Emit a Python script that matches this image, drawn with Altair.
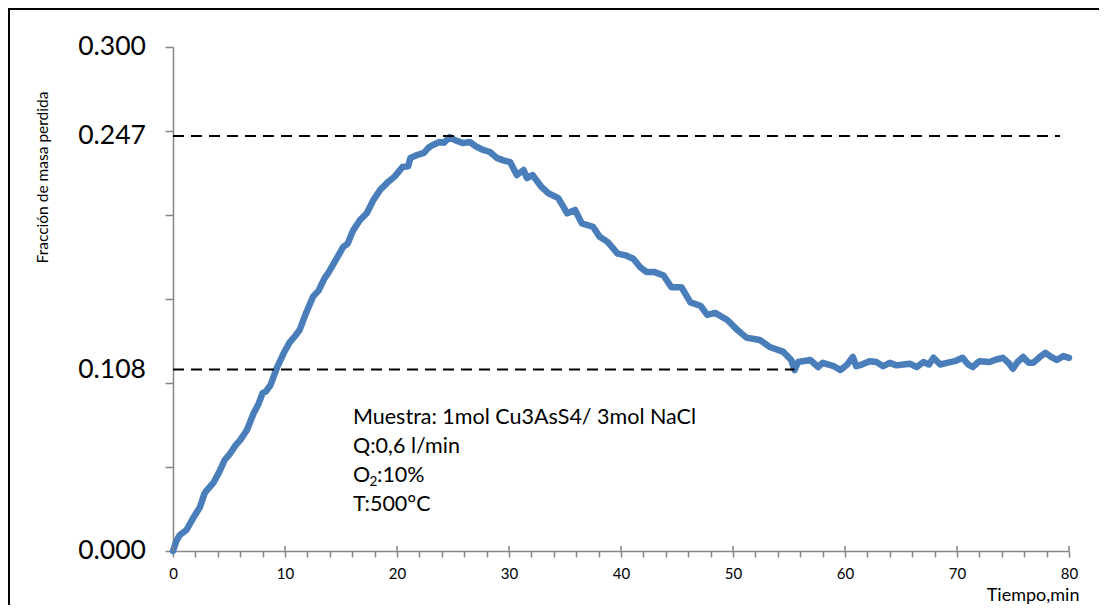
import altair as alt
import pandas as pd

# ---- data ----
tiempo = [0.0, 0.3, 0.6, 1.2, 1.8, 2.4, 2.8, 3.0, 3.6, 4.2, 4.6, 5.1, 5.6, 6.0, 6.6, 7.2, 7.6, 8.0, 8.3, 8.7,
          9.3, 9.9, 10.4, 10.9, 11.3, 11.9, 12.5, 13.0, 13.5, 14.0, 14.6, 15.2, 15.6, 16.1, 16.7, 17.3, 17.9,
          18.5, 19.1, 19.8, 20.5, 21.0, 21.2, 21.8, 22.4, 22.8, 23.2, 23.8, 24.2, 24.7, 25.2, 25.9, 26.5,
          27.0, 27.7, 28.3, 28.9, 29.5, 30.1, 30.7, 31.3, 31.6, 32.1, 32.9, 33.5, 34.4, 35.2, 35.9, 36.5,
          37.5, 38.1, 38.8, 39.7, 40.4, 41.1, 41.7, 42.3, 43.0, 43.8, 44.5, 45.4, 46.2, 47.1, 47.7, 48.4,
          49.5, 50.4, 51.2, 52.4, 53.3, 54.5, 55.2, 55.5, 55.8, 56.9, 57.6, 58.0, 59.0, 59.6, 60.2, 60.7,
          61.0, 61.5, 62.2, 62.8, 63.4, 64.0, 64.6, 65.2, 65.8, 66.4, 67.0, 67.5, 67.9, 68.5, 69.1, 69.8,
          70.5, 71.0, 71.4, 72.0, 72.9, 73.5, 74.1, 74.6, 75.0, 75.4, 75.9, 76.4, 76.8, 77.4, 77.9, 78.4,
          78.9, 79.5, 80.0]
fraccion = [0.000, 0.006, 0.0095, 0.0125, 0.0196, 0.026, 0.034, 0.036, 0.0405, 0.048, 0.054, 0.058, 0.063,
            0.066, 0.072, 0.082, 0.087, 0.094, 0.095, 0.0988, 0.1095, 0.118, 0.124, 0.128, 0.1315, 0.142,
            0.1514, 0.155, 0.162, 0.167, 0.174, 0.181, 0.183, 0.191, 0.197, 0.201, 0.209, 0.215, 0.219,
            0.223, 0.2286, 0.229, 0.234, 0.2357, 0.237, 0.240, 0.2417, 0.2435, 0.243, 0.2464, 0.2445,
            0.2428, 0.2435, 0.241, 0.2387, 0.2375, 0.234, 0.2325, 0.2315, 0.2238, 0.2268, 0.222, 0.2238,
            0.2167, 0.213, 0.210, 0.201, 0.203, 0.195, 0.193, 0.187, 0.184, 0.177, 0.176, 0.174, 0.169,
            0.166, 0.166, 0.164, 0.157, 0.157, 0.148, 0.146, 0.1405, 0.1417, 0.1375, 0.1315, 0.127, 0.1256,
            0.1214, 0.1185, 0.1137, 0.1077, 0.1125, 0.1137, 0.1095, 0.112, 0.110, 0.1077, 0.111, 0.1155,
            0.110, 0.111, 0.113, 0.1125, 0.110, 0.112, 0.1105, 0.111, 0.1115, 0.1095, 0.1125, 0.111, 0.115,
            0.111, 0.112, 0.113, 0.115, 0.111, 0.1095, 0.113, 0.1125, 0.114, 0.115, 0.112, 0.1085, 0.1125,
            0.1155, 0.112, 0.112, 0.1155, 0.118, 0.1155, 0.1137, 0.116, 0.115]

ref_levels = [0.247, 0.108]
ref_end = [79.2, 55.5]

y_label_values = [0.300, 0.247, 0.108, 0.000]
y_label_texts = ["0.300", "0.247", "0.108", "0.000"]

x_minor_ticks = list(range(0, 81, 2))
x_major_ticks = list(range(0, 81, 10))
y_ticks = [0.0, 0.05, 0.10, 0.15, 0.20, 0.25, 0.30]

note_lines = ["Muestra: 1mol Cu3AsS4/ 3mol NaCl", "Q:0,6 l/min", "T:500°C"]

FONT = "Lato"
AXIS_GRAY = "#868686"
BLUE = "#4A7EBB"

W, H = 896, 504

curve = pd.DataFrame({"t": tiempo, "v": fraccion})
refs = pd.DataFrame({"y": ref_levels, "x0": [0, 0], "x1": ref_end})
ylab = pd.DataFrame({"v": y_label_values, "label": y_label_texts})
majors = pd.DataFrame({"t": x_major_ticks})
one = pd.DataFrame({"a": [0]})

xscale = alt.Scale(domain=[0, 80], nice=False)
yscale = alt.Scale(domain=[0, 0.3], nice=False)

x_axis = alt.Axis(
    values=x_minor_ticks,
    labelExpr="datum.value % 10 == 0 ? datum.label : ''",
    labelOverlap=False, labelFlush=False,
    grid=False, tickSize=6, tickColor=AXIS_GRAY, tickWidth=1.5,
    domainColor=AXIS_GRAY, domainWidth=1.5,
    labelFont=FONT, labelFontSize=15, labelColor="black", labelPadding=9,
    title="Tiempo,min", titleFont=FONT, titleFontSize=18, titleFontWeight="normal",
    titleColor="black", titleAlign="right", titleX=906, titleY=44, titleBaseline="middle",
)
y_axis = alt.Axis(
    values=y_ticks, labels=False, grid=False, tickSize=8, tickColor=AXIS_GRAY, tickWidth=1.5,
    domainColor=AXIS_GRAY, domainWidth=1.5,
    title="Fracción de masa perdida", titleFont=FONT, titleFontSize=15.5, titleFontWeight="normal",
    titleColor="black", titleAngle=270, titleX=-131, titleY=130, titleAlign="center",
    titleBaseline="middle",
)

line = alt.Chart(curve).mark_line(
    color=BLUE, strokeWidth=6.5, strokeCap="round", strokeJoin="round"
).encode(
    x=alt.X("t:Q", scale=xscale, axis=x_axis),
    y=alt.Y("v:Q", scale=yscale, axis=y_axis),
)

dashes = alt.Chart(refs).mark_rule(color="black", strokeWidth=2, strokeDash=[11, 7]).encode(
    x=alt.X("x0:Q", scale=xscale, axis=x_axis),
    x2="x1:Q",
    y=alt.Y("y:Q", scale=yscale, axis=y_axis),
)

major_up = alt.Chart(majors).mark_rule(color=AXIS_GRAY, strokeWidth=1.5).encode(
    x=alt.X("t:Q", scale=xscale, axis=x_axis),
    y=alt.value(H - 5),
    y2=alt.value(H),
)

ylabels = alt.Chart(ylab).mark_text(
    font=FONT, fontSize=26.5, align="right", baseline="middle", color="black"
).encode(
    x=alt.value(-27),
    y=alt.Y("v:Q", scale=yscale, axis=y_axis),
    text="label:N",
)

frame = alt.Chart(one).mark_rect(fillOpacity=0, stroke="black", strokeWidth=2).encode(
    x=alt.value(-164), x2=alt.value(W + 60), y=alt.value(-38), y2=alt.value(H + 80)
)

NX = 180
FS = 21.5
note_y = [371, 400, 458]
notes = []
for txt, yy in zip(note_lines, note_y):
    notes.append(
        alt.Chart(one).mark_text(font=FONT, fontSize=FS, align="left", baseline="middle", color="black",
                                 text=txt).encode(x=alt.value(NX), y=alt.value(yy))
    )
# O2 line with subscript
o2_y = 429
notes.append(alt.Chart(one).mark_text(font=FONT, fontSize=FS, align="left", baseline="middle",
                                      color="black", text="O").encode(x=alt.value(NX), y=alt.value(o2_y)))
notes.append(alt.Chart(one).mark_text(font=FONT, fontSize=13.5, align="left", baseline="middle",
                                      color="black", text="2").encode(x=alt.value(NX + 16.5), y=alt.value(o2_y + 6)))
notes.append(alt.Chart(one).mark_text(font=FONT, fontSize=FS, align="left", baseline="middle",
                                      color="black", text=":10%").encode(x=alt.value(NX + 24), y=alt.value(o2_y)))

chart = alt.layer(line, frame, dashes, major_up, ylabels, *notes).properties(
    width=W, height=H,
    background="white",
    padding={"left": 165, "top": 39, "right": 30, "bottom": 54},
    autosize=alt.AutoSizeParams(type="none"),
).configure_view(strokeWidth=0)

chart.save("out.html", embed_options={"renderer": "svg", "actions": False})
